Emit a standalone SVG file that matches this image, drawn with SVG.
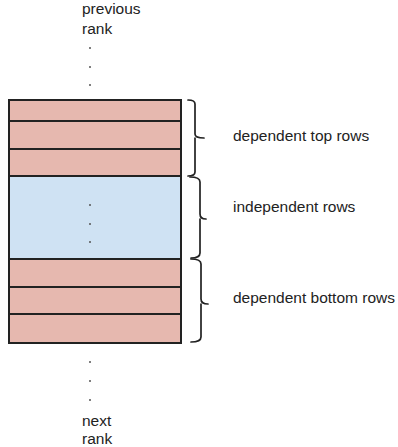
<svg xmlns="http://www.w3.org/2000/svg" width="398" height="447" viewBox="0 0 398 447">
<style>
text{font-family:"Liberation Sans",Arial,sans-serif;font-size:15.5px;fill:#222}
.red{fill:#e6b8af;stroke:#222;stroke-width:2}
.blue{fill:#cfe2f3;stroke:#222;stroke-width:2}
.brace{fill:none;stroke:#222;stroke-width:1.7;stroke-linejoin:round;stroke-linecap:round}
.dot{fill:#555}
</style>
<rect width="398" height="447" fill="#fff"/>
<g id="previous-rank">
<text x="82" y="14">previous</text>
<text x="82" y="34">rank</text>
<circle class="dot" cx="90" cy="48" r="1"/>
<circle class="dot" cx="90" cy="67" r="1"/>
<circle class="dot" cx="90" cy="85" r="1"/>
</g>
<g id="top-rows">
<rect class="red" x="9" y="100" width="172" height="21"/>
<rect class="red" x="9" y="121" width="172" height="28"/>
<rect class="red" x="9" y="149" width="172" height="27"/>
</g>
<g id="independent">
<rect class="blue" x="9" y="176" width="172" height="83"/>
<circle class="dot" cx="90" cy="205" r="1"/>
<circle class="dot" cx="90" cy="224" r="1"/>
<circle class="dot" cx="90" cy="242" r="1"/>
</g>
<g id="bottom-rows">
<rect class="red" x="9" y="259" width="172" height="28"/>
<rect class="red" x="9" y="287" width="172" height="27"/>
<rect class="red" x="9" y="314" width="172" height="29"/>
</g>
<g id="connectors">
<path class="brace" d="M188,100 Q195,100 195,104 L195,134 Q195,138 204,138 M195,138 Q195,138 195,142 L195,172 Q195,176 188,176"/>
<path class="brace" d="M190,177 Q200,177 200,182 L200,214 Q200,219 206,219 M200,219 Q200,219 200,224 L200,253 Q200,258 191,258"/>
<path class="brace" d="M191,259 Q201,259 201,264 L201,299 Q201,304 208,304 M201,304 Q201,304 201,309 L201,337 Q201,342 191,342"/>
</g>
<g id="labels">
<text x="233" y="141">dependent top rows</text>
<text x="233" y="212">independent rows</text>
<text x="233" y="303">dependent bottom rows</text>
</g>
<g id="next-rank">
<circle class="dot" cx="90" cy="362" r="1"/>
<circle class="dot" cx="90" cy="381" r="1"/>
<circle class="dot" cx="90" cy="400" r="1"/>
<text x="82" y="426">next</text>
<text x="82" y="444">rank</text>
</g>
</svg>
